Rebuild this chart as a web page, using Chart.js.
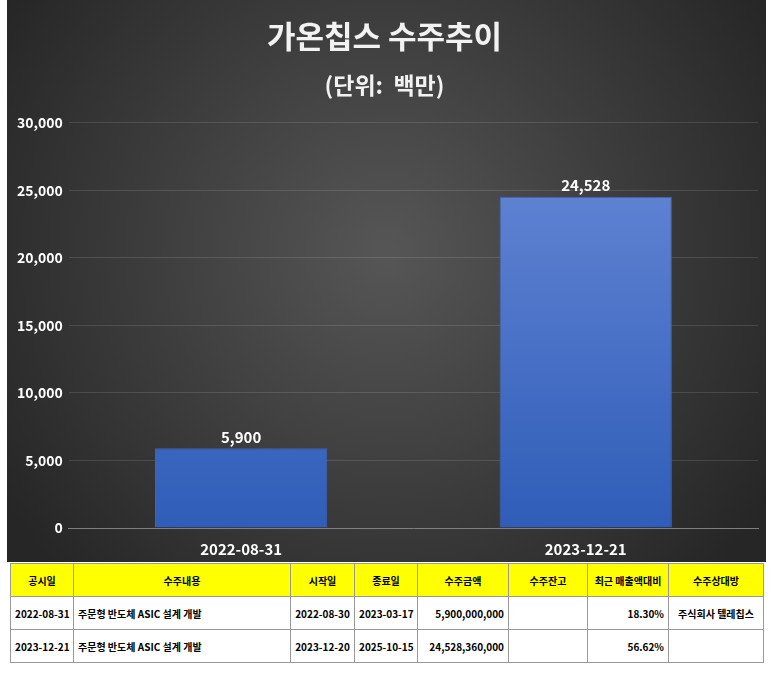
<!DOCTYPE html>
<html><head><meta charset="utf-8">
<script src="https://cdn.jsdelivr.net/npm/chart.js@4"></script>
<style>
  body{margin:0;background:#fff;font-family:"Noto Sans CJK KR",sans-serif;}
  #wrap{position:absolute;left:7px;top:0;width:759px;height:562px;}
  table{position:absolute;left:10px;top:563px;width:753px;border-collapse:collapse;font-size:10px;font-weight:bold;table-layout:fixed;}
  td,th{border:1px solid #999;height:32px;padding:0 4px;white-space:nowrap;}
  th{background:#ffff00;font-weight:bold;}
  td.r{text-align:right;} td.c{text-align:center;}
</style></head><body>
<div id="wrap"><canvas id="chart" width="759" height="562"></canvas></div>
<table id="tbl"></table>
<script>
const categories = ['2022-08-31','2023-12-21'];
const orderValues = [5900, 24528];
const yTicks = [0,5000,10000,15000,20000,25000,30000];
const tableHead = ['공시일','수주내용','시작일','종료일','수주금액','수주잔고','최근 매출액대비','수주상대방'];
const tableRows = [
  ['2022-08-31','주문형 반도체 ASIC 설계 개발','2022-08-30','2023-03-17','5,900,000,000','','18.30%','주식회사 텔레칩스'],
  ['2023-12-21','주문형 반도체 ASIC 설계 개발','2023-12-20','2025-10-15','24,528,360,000','','56.62%','']
];
const colW = [63,217,64,63,91,79,81,95];
const align = ['c','l','c','c','r','c','r','c'];

const tbl = document.getElementById('tbl');
let h = '<colgroup>' + colW.map(w=>`<col style="width:${w}px">`).join('') + '</colgroup><tr>';
tableHead.forEach(t=> h += `<th>${t}</th>`);
h += '</tr>';
tableRows.forEach(r=>{
  h += '<tr>' + r.map((v,i)=>`<td class="${align[i]}">${v}</td>`).join('') + '</tr>';
});
tbl.innerHTML = h;

const bgPlugin = {
  id:'bg',
  beforeDraw(c){
    const x = c.ctx, w = c.width, hh = c.height;
    const g = x.createRadialGradient(w/2, hh*0.45, 10, w/2, hh*0.45, w*0.6);
    g.addColorStop(0,'#555555'); g.addColorStop(1,'#262626');
    x.save(); x.fillStyle = g; x.fillRect(0,0,w,hh); x.restore();
  }
};
const labelPlugin = {
  id:'labels',
  afterDatasetsDraw(c){
    const x = c.ctx; const meta = c.getDatasetMeta(0);
    x.save(); x.fillStyle='#fff'; x.font='bold 15px "Noto Sans CJK KR"'; x.textAlign='center'; x.textBaseline='bottom';
    meta.data.forEach((b,i)=> x.fillText(orderValues[i].toLocaleString('en-US'), b.x, b.y-4));
    x.restore();
  }
};

const ctx = document.getElementById('chart').getContext('2d');
const grad = ctx.createLinearGradient(0,190,0,527);
grad.addColorStop(0,'#5f82d2'); grad.addColorStop(1,'#2f5db8');

new Chart(ctx,{
  type:'bar',
  data:{labels:categories,datasets:[{data:orderValues,backgroundColor:grad,borderColor:'#3a64bd',borderWidth:1,barPercentage:1,categoryPercentage:0.5}]},
  options:{
    responsive:false,animation:false,devicePixelRatio:1,
    layout:{padding:{left:4,right:8,top:0,bottom:0}},
    plugins:{
      legend:{display:false},tooltip:{enabled:false},
      title:{display:true,text:'가온칩스 수주추이',color:'#f2f2f2',font:{size:31,weight:'bold',family:'"Noto Sans CJK KR"'},padding:{top:18,bottom:16}},
      subtitle:{display:true,text:'(단위:  백만)',color:'#f2f2f2',font:{size:23,weight:'bold',family:'"Noto Sans CJK KR"'},padding:{bottom:24}}
    },
    scales:{
      x:{grid:{display:false},border:{color:'#7f7f7f'},ticks:{color:'#fff',font:{size:15,weight:'bold',family:'"Noto Sans CJK KR"'},padding:4}},
      y:{min:0,max:30000,afterBuildTicks(ax){ax.ticks=yTicks.map(v=>({value:v}));},
         grid:{color:'rgba(255,255,255,0.12)',drawTicks:false},border:{display:false},
         ticks:{color:'#fff',padding:6,font:{size:14,weight:'bold',family:'"Noto Sans CJK KR"'},callback:v=>v.toLocaleString('en-US')}}
    }
  },
  plugins:[bgPlugin,labelPlugin]
});
</script>
</body></html>
